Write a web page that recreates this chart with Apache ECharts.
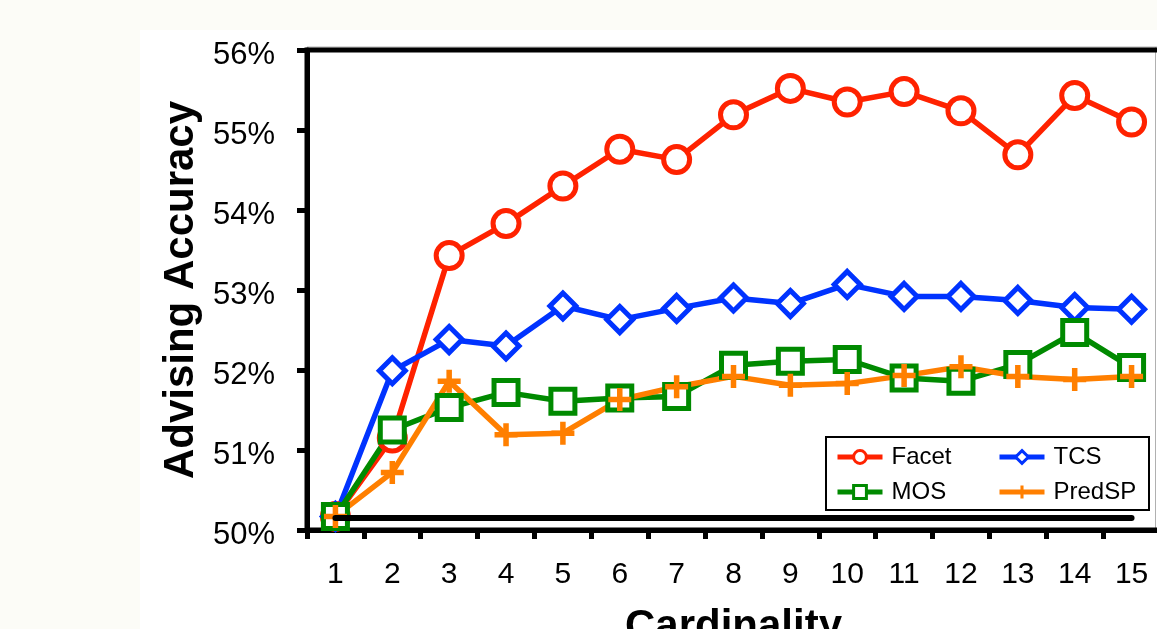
<!DOCTYPE html>
<html>
<head>
<meta charset="utf-8">
<script src="https://cdn.jsdelivr.net/npm/echarts@6/dist/echarts.min.js"></script>
<style>
html,body{margin:0;padding:0;background:#fcfcf7;}
#chart{width:1157px;height:629px;}
</style>
</head>
<body>
<div id="chart"></div>
<script>
const categories = ['1','2','3','4','5','6','7','8','9','10','11','12','13','14','15'];
const facet  = [50.17, 51.15, 53.43, 53.83, 54.30, 54.76, 54.63, 55.19, 55.52, 55.35, 55.48, 55.24, 54.69, 55.43, 55.10];
const tcs    = [50.17, 51.99, 52.38, 52.30, 52.80, 52.63, 52.77, 52.90, 52.83, 53.07, 52.92, 52.92, 52.87, 52.78, 52.76];
const mos    = [50.17, 51.25, 51.53, 51.72, 51.61, 51.65, 51.67, 52.06, 52.11, 52.13, 51.90, 51.86, 52.07, 52.47, 52.03];
const predsp = [50.17, 50.72, 51.86, 51.19, 51.21, 51.63, 51.79, 51.92, 51.81, 51.83, 51.93, 52.04, 51.92, 51.88, 51.92];
const baseline = [50.15, 50.15, 50.15, 50.15, 50.15, 50.15, 50.15, 50.15, 50.15, 50.15, 50.15, 50.15, 50.15, 50.15, 50.15];
const yTicks = ['50%','51%','52%','53%','54%','55%','56%'];

const FONT = '"Liberation Sans", Arial, sans-serif';
const plus = 'path://M-2.4,-10 L2.4,-10 L2.4,-2.4 L10,-2.4 L10,2.4 L2.4,2.4 L2.4,10 L-2.4,10 L-2.4,2.4 L-10,2.4 L-10,-2.4 L-2.4,-2.4 Z';

function mk(name, data, color, symbol, size, hollow) {
  return {
    name: name, type: 'line', data: data,
    symbol: symbol, symbolSize: size,
    lineStyle: {color: color, width: 5.5},
    itemStyle: hollow ? {color: '#fff', borderColor: color, borderWidth: 5} : {color: color, borderWidth: 0},
    emphasis: {disabled: true},
    animation: false
  };
}

const legendCommon = {
  orient: 'vertical', top: 445, padding: 0, itemGap: 11,
  itemWidth: 45, itemHeight: 16,
  lineStyle: {width: 5},
  itemStyle: {borderWidth: 3},
  textStyle: {fontFamily: FONT, fontSize: 24, color: '#000', padding: [0, 0, 0, 4]},
  z: 60
};

const chart = echarts.init(document.getElementById('chart'));
chart.setOption({
  backgroundColor: 'transparent',
  animation: false,
  graphic: [
    {type: 'rect', shape: {x: 140, y: 30, width: 1017, height: 599}, style: {fill: '#ffffff'}, z: -10},
    {type: 'line', shape: {x1: 307, y1: 47, x2: 1157, y2: 47}, style: {stroke: '#b0b0b0', lineWidth: 1}, z: -5},
    {type: 'line', shape: {x1: 1155.5, y1: 47, x2: 1155.5, y2: 530}, style: {stroke: '#b0b0b0', lineWidth: 1}, z: -5},
    {type: 'rect', shape: {x: 826, y: 437, width: 323, height: 73}, style: {fill: '#fff', stroke: '#000', lineWidth: 2}, z: 50}
  ],
  grid: {left: 307, top: 50, width: 853, height: 480, outerBoundsMode: 'none', containLabel: false,
         show: true, borderColor: '#000', borderWidth: 5, backgroundColor: 'transparent'},
  legend: [
    Object.assign({data: ['Facet', 'MOS'], left: 835}, legendCommon),
    Object.assign({data: ['TCS', 'PredSP'], left: 997}, legendCommon)
  ],
  xAxis: {
    type: 'category', data: categories, boundaryGap: true,
    name: 'Cardinality', nameLocation: 'middle', nameGap: 76,
    nameTextStyle: {fontFamily: FONT, fontSize: 42, fontWeight: 'bold', color: '#000'},
    axisLine: {lineStyle: {color: '#000', width: 5}},
    axisTick: {show: true, length: 9, lineStyle: {color: '#000', width: 5}, alignWithLabel: false, interval: 0},
    axisLabel: {fontFamily: FONT, fontSize: 30, color: '#000', margin: 30, interval: 0},
    splitLine: {show: false}
  },
  yAxis: {
    type: 'value', min: 50, max: 56, interval: 1,
    name: 'Advising Accuracy', nameLocation: 'middle', nameGap: 102, nameRotate: 90,
    nameTextStyle: {fontFamily: FONT, fontSize: 42, fontWeight: 'bold', color: '#000'},
    axisLine: {show: true, lineStyle: {color: '#000', width: 5}},
    axisTick: {show: true, length: 10, lineStyle: {color: '#000', width: 5}},
    axisLabel: {fontFamily: FONT, fontSize: 31, color: '#000', margin: 32,
      formatter: function (v) { return '{t|' + yTicks[Math.round(v - 50)] + '}'; },
      rich: {t: {fontFamily: FONT, fontSize: 31, color: '#000', padding: [11, 0, 0, 0]}}},
    splitLine: {show: false}
  },
  series: [
    mk('Facet', facet, '#ff2200', 'circle', 26, true),
    mk('TCS', tcs, '#0033ff', 'diamond', 26, true),
    mk('MOS', mos, '#008a00', 'rect', 24, true),
    mk('PredSP', predsp, '#ff7f00', plus, 23, false),
    {name: 'Baseline', type: 'line', data: baseline, symbol: 'none', silent: true, z: 5,
     lineStyle: {color: '#000', width: 6, cap: 'round'}, emphasis: {disabled: true}}
  ]
});
</script>
</body>
</html>
